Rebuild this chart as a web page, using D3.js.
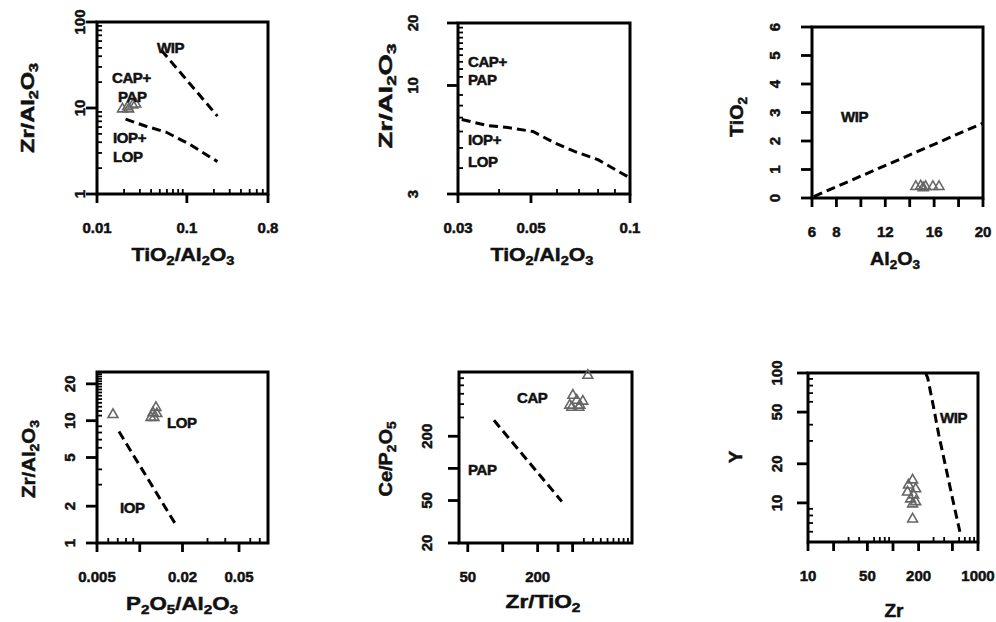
<!DOCTYPE html>
<html>
<head>
<meta charset="utf-8">
<script src="https://cdn.jsdelivr.net/npm/d3@7"></script>
<style>
body { margin: 0; background: #fff; }
text { font-family: "Liberation Sans", Arial, sans-serif; font-weight: bold; fill: #111; stroke: #111; stroke-width: 0.5px; }
</style>
</head>
<body>
<svg id="fig" width="996" height="622"></svg>
<script>
// ---- data ----
// panel 1: Zr/Al2O3 vs TiO2/Al2O3
var p1X = [0.0192, 0.0219, 0.025, 0.027, 0.0225];
var p1Y = [9.73, 10.3, 10.8, 11.1, 9.73];
var p1UpX = [0.052, 0.219];
var p1UpY = [47, 8.05];
var p1LoX = [0.0208, 0.0351, 0.0592, 0.108, 0.219];
var p1LoY = [7.42, 6.14, 5.22, 3.77, 2.38];

// panel 2: Zr/Al2O3 vs TiO2/Al2O3 (zoomed)
var p2LineX = [0.0308, 0.037, 0.0425, 0.0507, 0.059, 0.0681, 0.0799, 0.0986];
var p2LineY = [6.85, 6.41, 6.27, 6.0, 5.29, 4.8, 4.39, 3.63];

// panel 3: TiO2 vs Al2O3
var p3X = [14.5, 14.9, 15.1, 15.3, 15.9, 16.4];
var p3Y = [0.40, 0.42, 0.36, 0.40, 0.40, 0.40];
var p3LineX = [6.15, 20];
var p3LineY = [0.05, 2.63];

// panel 4: Zr/Al2O3 vs P2O5/Al2O3
var p4X = [0.00648, 0.013, 0.0124, 0.0132, 0.012, 0.0126];
var p4Y = [11.2, 12.8, 11.6, 11.4, 10.6, 10.6];
var p4LineX = [0.00714, 0.0177];
var p4LineY = [8.15, 1.45];

// panel 5: Ce/P2O5 vs Zr/TiO2
var p5X = [541, 402, 378, 462, 435, 490, 394, 453];
var p5Y = [743, 483, 390, 390, 434, 425, 373, 373];
var p5LineX = [84, 323];
var p5LineY = [282, 49];

// panel 6: Y vs Zr
var p6X = [170, 152, 185, 148, 175, 161, 185, 170, 170];
var p6Y = [15.0, 13.7, 12.8, 12.1, 11.5, 10.7, 10.2, 9.8, 7.5];
var p6LineX = [242, 256, 301, 345, 418, 506, 612];
var p6LineY = [100, 91.6, 54, 33.6, 18.8, 10.5, 6.0];

// tick values
function range(a, b, s) { var r = []; for (var v = a; v <= b + 1e-9; v += s) r.push(+v.toFixed(6)); return r; }

var svg = d3.select("#fig");

var panels = [
  { box: [97, 22, 171, 172], xLog: true, xDom: [0.01, 0.8], yLog: true, yDom: [1, 100],
    xMajor: [0.01, 0.1, 0.8], xLab: ["0.01", "0.1", "0.8"], xMinor: range(0.02, 0.09, 0.01).concat(range(0.2, 0.7, 0.1)),
    yMajor: [1, 10, 100], yLab: ["1", "10", "100"], yMinor: range(2, 9, 1).concat(range(20, 90, 10)),
    pts: [p1X, p1Y], lines: [[p1UpX, p1UpY], [p1LoX, p1LoY]],
    labels: [["WIP", 60, 31], ["CAP+", 15, 61], ["PAP", 21, 80], ["IOP+", 16, 121], ["LOP", 16, 140]],
    xTitle: [["TiO", 0], ["2", 1], ["/Al", 0], ["2", 1], ["O", 0], ["3", 1]], xT: [183, 261, 103],
    yTitle: [["Zr/Al", 0], ["2", 1], ["O", 0], ["3", 1]], yT: [34, 108, 90], yOff: 12 },
  { box: [458, 23, 172, 171], xLog: true, xDom: [0.03, 0.1], yLog: true, yDom: [3, 20],
    xMajor: [0.03, 0.05, 0.1], xLab: ["0.03", "0.05", "0.1"], xMinor: [0.04, 0.06, 0.07, 0.08, 0.09],
    yMajor: [3, 10, 20], yLab: ["3", "10", "20"], yMinor: range(4, 9, 1).concat(range(11, 19, 1)),
    pts: null, lines: [[p2LineX, p2LineY]],
    labels: [["CAP+", 10, 44], ["PAP", 10, 62], ["IOP+", 10, 122], ["LOP", 10, 144]],
    xTitle: [["TiO", 0], ["2", 1], ["/Al", 0], ["2", 1], ["O", 0], ["3", 1]], xT: [542, 261, 103],
    yTitle: [["Zr/Al", 0], ["2", 1], ["O", 0], ["3", 1]], yT: [392, 96, 105], yOff: 40 },
  { box: [812, 27, 171, 171], xLog: false, xDom: [6, 20], yLog: false, yDom: [0, 6],
    xMajor: range(6, 20, 2), xLab: ["6", "8", "", "12", "", "16", "", "20"], xMinor: [],
    yMajor: range(0, 6, 1), yLab: ["0", "1", "2", "3", "4", "5", "6"], yMinor: [],
    pts: [p3X, p3Y], lines: [[p3LineX, p3LineY]],
    labels: [["WIP", 29, 95]],
    xTitle: [["Al", 0], ["2", 1], ["O", 0], ["3", 1]], xT: [895, 265, 50],
    yTitle: [["TiO", 0], ["2", 1]], yT: [743, 117, 40], yOff: 32 },
  { box: [97, 372, 171, 171], xLog: true, xDom: [0.005, 0.08], yLog: true, yDom: [1, 25],
    xMajor: [0.005, 0.01, 0.02, 0.05], xLab: ["0.005", "", "0.02", "0.05"], xMinor: [0.006, 0.007, 0.008, 0.009, 0.03, 0.04, 0.06, 0.07],
    yMajor: [1, 2, 5, 10, 20], yLab: ["1", "2", "5", "10", "20"], yMinor: [3, 4, 6, 7, 8, 9].concat(range(11, 25, 1)),
    pts: [p4X, p4Y], lines: [[p4LineX, p4LineY]],
    labels: [["LOP", 70, 56], ["IOP", 23, 141]],
    xTitle: [["P", 0], ["2", 1], ["O", 0], ["5", 1], ["/Al", 0], ["2", 1], ["O", 0], ["3", 1]], xT: [182, 610, 112],
    yTitle: [["Zr/Al", 0], ["2", 1], ["O", 0], ["3", 1]], yT: [35, 459, 78], yOff: 22 },
  { box: [459, 372, 173, 171], xLog: true, xDom: [42, 1300], yLog: true, yDom: [20, 800],
    xMajor: [50, 100, 200, 300, 400], xLab: ["50", "", "200", "", ""], xMinor: range(500, 1200, 100),
    yMajor: [20, 50, 100, 200], yLab: ["20", "50", "", "200"], yMinor: range(300, 700, 100),
    pts: [p5X, p5Y], lines: [[p5LineX, p5LineY]],
    labels: [["CAP", 58, 31], ["PAP", 9, 103]],
    xTitle: [["Zr/TiO", 0], ["2", 1]], xT: [543, 608, 75],
    yTitle: [["Ce/P", 0], ["2", 1], ["O", 0], ["5", 1]], yT: [392, 459, 75], yOff: 27 },
  { box: [808, 373, 170, 169], xLog: true, xDom: [10, 1000], yLog: true, yDom: [5, 100],
    xMajor: [10, 20, 50, 100, 200, 500, 1000], xLab: ["10", "", "50", "", "200", "", "1000"],
    xMinor: [30, 40, 60, 70, 80, 90, 300, 400, 600, 700, 800, 900],
    yMajor: [10, 20, 50, 100], yLab: ["10", "20", "50", "100"], yMinor: [6, 7, 8, 9, 30, 40, 60, 70, 80, 90],
    pts: [p6X, p6Y], lines: [[p6LineX, p6LineY]],
    labels: [["WIP", 132, 50]],
    xTitle: [["Zr", 0]], xT: [894, 617, 0],
    yTitle: [["Y", 0]], yT: [742, 457, 0], yOff: 26 }
];

// build a title with subscripts, then stretch it to the measured length
function title(g, parts, len) {
  var t = g.append("text").attr("text-anchor", "middle").style("font-size", "19px");
  var sub = false;
  parts.forEach(function (p) {
    var ts = t.append("tspan").text(p[0]);
    if (p[1]) { ts.style("font-size", "13px").attr("dy", sub ? 0 : 4); sub = true; }
    else { ts.attr("dy", sub ? -4 : 0); sub = false; }
  });
  if (len > 0) {
    var w = t.node().getBBox().width;
    t.attr("transform", "scale(" + (len / w) + ",1)");
  }
  return t;
}

panels.forEach(function (p) {
  var x0 = p.box[0], y0 = p.box[1], w = p.box[2], h = p.box[3];
  var xs = (p.xLog ? d3.scaleLog() : d3.scaleLinear()).domain(p.xDom).range([x0, x0 + w]);
  var ys = (p.yLog ? d3.scaleLog() : d3.scaleLinear()).domain(p.yDom).range([y0 + h, y0]);
  var g = svg.append("g");
  var yb = y0 + h;

  // minor ticks point inward
  g.selectAll(null).data(p.xMinor).enter().append("line")
    .attr("x1", function (d) { return xs(d); }).attr("x2", function (d) { return xs(d); })
    .attr("y1", yb).attr("y2", yb - 5)
    .attr("stroke", "#000").attr("stroke-width", 1.8);
  g.selectAll(null).data(p.yMinor).enter().append("line")
    .attr("y1", function (d) { return ys(d); }).attr("y2", function (d) { return ys(d); })
    .attr("x1", x0).attr("x2", x0 + 5)
    .attr("stroke", "#000").attr("stroke-width", 1.8);

  // major ticks point outward
  g.selectAll(null).data(p.xMajor).enter().append("line")
    .attr("x1", function (d) { return xs(d); }).attr("x2", function (d) { return xs(d); })
    .attr("y1", yb).attr("y2", yb + 9)
    .attr("stroke", "#000").attr("stroke-width", 2.8);
  g.selectAll(null).data(p.yMajor).enter().append("line")
    .attr("y1", function (d) { return ys(d); }).attr("y2", function (d) { return ys(d); })
    .attr("x1", x0 - 11).attr("x2", x0)
    .attr("stroke", "#000").attr("stroke-width", 2.8);

  // frame
  g.append("rect").attr("x", x0).attr("y", y0).attr("width", w).attr("height", h)
    .attr("fill", "none").attr("stroke", "#000").attr("stroke-width", 3);

  // tick labels
  g.selectAll(null).data(p.xMajor).enter().append("text")
    .attr("x", function (d) { return xs(d); }).attr("y", yb + 39)
    .attr("text-anchor", "middle").style("font-size", "15px")
    .text(function (d, i) { return p.xLab[i]; });
  g.selectAll(null).data(p.yMajor).enter().append("text")
    .attr("transform", function (d) { return "translate(" + (x0 - p.yOff) + "," + ys(d) + ") rotate(-90)"; })
    .attr("text-anchor", "middle").style("font-size", "15px")
    .text(function (d, i) { return p.yLab[i]; });

  // boundary lines
  var line = d3.line().x(function (d) { return xs(d[0]); }).y(function (d) { return ys(d[1]); });
  p.lines.forEach(function (l) {
    g.append("path").datum(d3.zip(l[0], l[1])).attr("d", line)
      .attr("fill", "none").attr("stroke", "#000").attr("stroke-width", 3)
      .attr("stroke-dasharray", "9,5");
  });

  // samples
  if (p.pts) {
    g.selectAll(null).data(d3.zip(p.pts[0], p.pts[1])).enter().append("path")
      .attr("d", d3.symbol().type(d3.symbolTriangle).size(42))
      .attr("transform", function (d) { return "translate(" + xs(d[0]) + "," + ys(d[1]) + ")"; })
      .attr("fill", "none").attr("stroke", "#666").attr("stroke-width", 1.6);
  }

  // field labels
  p.labels.forEach(function (l) {
    g.append("text").attr("x", x0 + l[1]).attr("y", y0 + l[2])
      .style("font-size", "15px").style("letter-spacing", "-0.4px").text(l[0]);
  });

  // axis titles
  var gx = g.append("g").attr("transform", "translate(" + p.xT[0] + "," + p.xT[1] + ")");
  title(gx, p.xTitle, p.xT[2]);
  var gy = g.append("g").attr("transform", "translate(" + p.yT[0] + "," + p.yT[1] + ") rotate(-90)");
  title(gy, p.yTitle, p.yT[2]);
});
</script>
</body>
</html>
